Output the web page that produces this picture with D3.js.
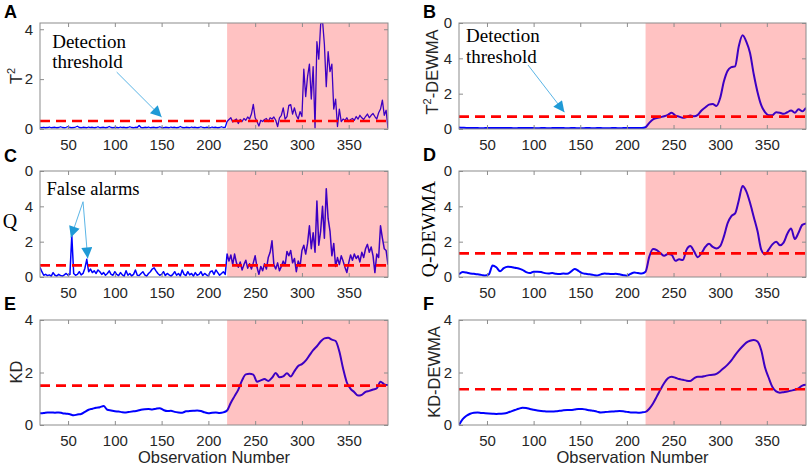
<!DOCTYPE html>
<meta charset="utf-8">
<style>
  body { margin: 0; background: #fff; }
  svg text { font-family: Arial, "Liberation Sans", sans-serif; }
  .tick text { fill: #262626; font-size: 15px; }
  .tick line { stroke: #8c8c8c; }
  .serif { font-family: "Times New Roman", "Liberation Serif", serif !important; }
</style>
<body></body>
<script src="https://d3js.org/d3.v7.min.js"></script>
<script>
// observation numbers (raw statistics every 2nd sample, DEWMA curves every 4th)
var obsRaw = d3.range(20, 393, 2);
var obsDewma = d3.range(20, 393, 4);
var faultStart = 220;
var xTicks = [50, 100, 150, 200, 250, 300, 350];

// A: T^2
var t2 = [
  0.06,0.05,0.07,0.05,0.06,0.08,0.05,0.06,0.07,0.05,
  0.06,0.09,0.06,0.05,0.07,0.10,0.06,0.05,0.06,0.08,
  0.11,0.06,0.05,0.07,0.06,0.05,0.08,0.06,0.07,0.05,
  0.06,0.09,0.05,0.06,0.07,0.05,0.06,0.10,0.06,0.05,
  0.07,0.06,0.05,0.08,0.06,0.07,0.05,0.06,0.09,0.06,
  0.05,0.07,0.06,0.14,0.06,0.05,0.07,0.06,0.08,0.05,
  0.06,0.07,0.05,0.06,0.09,0.06,0.05,0.07,0.06,0.05,
  0.08,0.06,0.07,0.05,0.06,0.10,0.06,0.05,0.07,0.06,
  0.05,0.08,0.06,0.07,0.05,0.06,0.09,0.06,0.05,0.07,
  0.06,0.05,0.08,0.06,0.07,0.05,0.06,0.09,0.06,0.07,
  0.30,0.38,0.45,0.28,0.35,0.40,0.22,0.38,0.30,0.42,
  0.35,0.48,0.40,0.60,0.99,0.45,0.30,0.12,0.35,0.30,
  0.38,0.42,0.30,0.45,0.40,0.48,0.35,0.10,0.45,0.55,
  0.85,0.40,0.50,0.95,0.98,0.60,0.85,0.55,0.40,0.70,
  0.50,2.40,1.30,2.10,2.60,1.20,2.50,0.05,3.50,2.80,
  4.20,4.35,3.40,1.70,3.10,2.30,2.60,0.80,1.20,0.10,
  0.80,0.30,0.40,0.35,0.45,0.30,0.38,0.42,0.35,0.50,
  0.40,0.55,0.45,0.38,0.50,0.60,0.45,0.55,0.62,0.50,
  0.40,0.65,0.80,1.16,0.55,0.75,0.02
];

// B: T^2-DEWMA
var t2Dewma = [
  0.08,0.07,0.06,0.06,0.05,0.05,0.04,0.05,0.06,0.06,
  0.05,0.06,0.06,0.05,0.05,0.04,0.05,0.05,0.06,0.05,
  0.05,0.04,0.05,0.05,0.04,0.05,0.06,0.05,0.05,0.04,
  0.05,0.05,0.04,0.04,0.05,0.05,0.04,0.05,0.05,0.04,
  0.04,0.05,0.05,0.04,0.05,0.06,0.05,0.05,0.06,0.05,
  0.10,0.35,0.55,0.62,0.67,0.72,0.80,0.92,0.76,0.70,
  0.63,0.68,0.76,0.72,0.80,1.05,1.22,1.38,1.42,1.30,
  1.75,2.70,3.30,3.50,3.55,4.70,5.30,4.95,4.30,3.10,
  2.10,1.35,0.95,0.78,0.78,0.95,0.92,0.86,0.95,1.05,
  0.92,1.12,1.00,1.20
];

// C: Q
var q = [
  0.55,0.30,0.10,0.15,0.08,0.12,0.05,0.25,0.10,0.06,
  0.15,0.08,0.05,0.12,0.20,0.10,0.15,2.35,0.20,0.10,
  0.15,0.30,0.12,0.20,0.50,1.00,0.30,0.45,0.25,0.35,
  0.20,0.40,0.30,0.15,0.25,0.10,0.20,0.35,0.15,0.10,
  0.30,0.15,0.08,0.25,0.12,0.05,0.35,0.10,0.20,0.06,
  0.15,0.40,0.10,0.08,0.20,0.30,0.12,0.05,0.20,0.30,
  0.45,0.52,0.35,0.20,0.10,0.15,0.30,0.08,0.20,0.12,
  0.05,0.15,0.30,0.10,0.20,0.06,0.40,0.15,0.08,0.30,
  0.12,0.20,0.05,0.25,0.10,0.15,0.30,0.08,0.20,0.12,
  0.05,0.30,0.35,0.15,0.40,0.25,0.10,0.20,0.30,0.15,
  1.30,0.90,1.25,0.70,1.30,0.80,0.55,0.85,0.40,0.70,
  0.95,0.50,0.75,0.45,0.80,1.20,0.55,0.15,0.60,0.35,
  0.75,0.45,1.10,1.40,2.05,0.70,0.45,0.80,0.35,0.60,
  0.90,0.65,1.45,1.20,1.50,0.80,1.05,0.30,0.90,0.60,
  1.50,1.80,1.30,1.90,2.90,1.60,2.50,1.40,4.30,1.80,
  2.60,4.00,2.20,5.00,3.30,2.60,1.20,1.90,0.60,1.10,
  0.70,1.20,0.90,0.55,0.25,0.80,1.25,0.95,1.30,1.05,
  1.20,0.85,1.40,1.10,1.60,1.85,1.40,1.70,1.20,0.25,
  1.30,1.10,2.90,2.20,1.60,1.50,0.70
];

// D: Q-DEWMA
var qDewma = [
  0.15,0.28,0.25,0.20,0.18,0.15,0.12,0.08,0.15,0.65,
  0.55,0.32,0.50,0.58,0.57,0.52,0.48,0.40,0.28,0.22,
  0.30,0.30,0.28,0.22,0.20,0.22,0.18,0.17,0.20,0.18,
  0.30,0.45,0.35,0.22,0.18,0.15,0.12,0.08,0.15,0.20,
  0.18,0.17,0.18,0.15,0.10,0.07,0.18,0.25,0.22,0.20,
  0.30,1.15,1.58,1.52,1.35,1.20,1.30,1.25,0.92,1.00,
  0.96,1.55,1.75,1.45,1.12,1.35,1.70,1.88,1.70,1.62,
  1.75,2.30,3.05,3.45,3.60,4.35,5.15,4.85,4.20,3.40,
  2.60,1.55,1.28,1.55,1.85,2.00,1.80,1.95,2.45,2.75,
  2.15,2.50,2.95,3.03
];

// E: KD
var kd = [
  0.45,0.46,0.48,0.48,0.47,0.48,0.45,0.43,0.41,0.37,
  0.40,0.42,0.50,0.58,0.62,0.66,0.68,0.72,0.58,0.55,
  0.52,0.51,0.49,0.48,0.50,0.52,0.54,0.58,0.60,0.61,
  0.59,0.62,0.64,0.57,0.53,0.54,0.50,0.48,0.47,0.52,
  0.53,0.54,0.55,0.53,0.48,0.45,0.47,0.48,0.46,0.48,
  0.55,0.85,1.10,1.35,1.70,1.93,1.95,1.92,1.65,1.70,
  1.75,1.68,1.80,1.98,1.82,1.85,1.97,1.85,2.05,2.25,
  2.32,2.45,2.65,2.85,3.00,3.18,3.30,3.32,3.25,3.20,
  2.80,2.15,1.62,1.38,1.25,1.12,1.15,1.26,1.30,1.35,
  1.40,1.65,1.55,1.52
];

// F: KD-DEWMA
var kdDewma = [
  0.00,0.22,0.35,0.43,0.47,0.48,0.46,0.45,0.44,0.43,
  0.42,0.43,0.44,0.47,0.52,0.57,0.62,0.66,0.65,0.61,
  0.58,0.55,0.53,0.52,0.51,0.51,0.52,0.54,0.56,0.57,
  0.57,0.59,0.61,0.61,0.59,0.56,0.54,0.51,0.48,0.49,
  0.50,0.51,0.52,0.53,0.52,0.50,0.48,0.48,0.47,0.48,
  0.50,0.62,0.82,1.08,1.35,1.60,1.78,1.84,1.80,1.75,
  1.72,1.69,1.68,1.78,1.84,1.84,1.87,1.90,1.91,1.95,
  2.05,2.17,2.30,2.46,2.66,2.84,3.00,3.14,3.21,3.24,
  3.18,2.85,2.20,1.80,1.45,1.28,1.23,1.25,1.28,1.31,
  1.34,1.40,1.50,1.53
];

var thresholds = [0.32, 0.70, 0.66, 1.34, 1.50, 1.36];
var yMax = [4.25, 6, 6, 6, 4, 4];
var yTicks4 = [0, 2, 4];
var yTicks6 = [0, 2, 4, 6];
var yTickLabels6 = ["0", "2", "4", "0"];
var panelLetters = ["A", "B", "C", "D", "E", "F"];

// panel layout (pixel boxes of the plot areas)
var cols = [{ left: 40, right: 388 }, { left: 459, right: 806 }];
var rows = [{ top: 23, bottom: 129 }, { top: 171, bottom: 277 }, { top: 320, bottom: 425 }];

var panels = [
  { series: t2, obs: obsRaw, width: 1.3, smooth: false },
  { series: t2Dewma, obs: obsDewma, width: 2, smooth: true },
  { series: q, obs: obsRaw, width: 1.5, smooth: false },
  { series: qDewma, obs: obsDewma, width: 2, smooth: true },
  { series: kd, obs: obsDewma, width: 2, smooth: true },
  { series: kdDewma, obs: obsDewma, width: 2, smooth: true }
];

var svg = d3.select("body").append("svg")
  .attr("width", 809)
  .attr("height", 469);

var defs = svg.append("defs");
defs.append("marker")
  .attr("id", "arrowHead")
  .attr("viewBox", "0 0 10 10")
  .attr("refX", 10)
  .attr("refY", 5)
  .attr("markerUnits", "userSpaceOnUse")
  .attr("markerWidth", 13)
  .attr("markerHeight", 11)
  .attr("orient", "auto")
  .append("path")
  .attr("d", "M0,0L10,5L0,10z")
  .attr("fill", "#1f9ad6");

var scales = [];

panels.forEach(function (p, i) {
  var col = cols[i % 2], row = rows[Math.floor(i / 2)];
  var w = col.right - col.left, h = row.bottom - row.top;

  var x = d3.scaleLinear().domain([20, 392]).range([0, w]);
  var y = d3.scaleLinear().domain([0, yMax[i]]).range([h, 0]);
  scales.push({ x: x, y: y });

  var g = svg.append("g")
    .attr("transform", "translate(" + col.left + "," + row.top + ")");

  defs.append("clipPath").attr("id", "clip" + i)
    .append("rect").attr("width", w).attr("height", h);

  var plot = g.append("g").attr("clip-path", "url(#clip" + i + ")");

  var line = d3.line()
    .x(function (d, k) { return x(p.obs[k]); })
    .y(function (d) { return y(d); })
    .curve(p.smooth ? d3.curveMonotoneX : d3.curveLinear);

  plot.append("path")
    .datum(p.series)
    .attr("fill", "none")
    .attr("stroke", "#0000ff")
    .attr("stroke-width", p.width)
    .attr("stroke-linejoin", "round")
    .attr("d", line);

  // detection threshold
  plot.append("line")
    .attr("x1", x(20)).attr("x2", x(392))
    .attr("y1", y(thresholds[i])).attr("y2", y(thresholds[i]))
    .attr("stroke", "#ff0000")
    .attr("stroke-width", 2.6)
    .attr("stroke-dasharray", "10,6");

  // fault region, drawn over the line like a transparent patch
  plot.append("rect")
    .attr("x", x(faultStart))
    .attr("y", 0)
    .attr("width", x(392) - x(faultStart))
    .attr("height", h)
    .attr("fill", "#ff0000")
    .attr("fill-opacity", 0.24);

  var yt = yMax[i] === 6 ? yTicks6 : yTicks4;

  g.append("g")
    .attr("transform", "translate(0," + h + ")")
    .call(d3.axisBottom(x).tickValues(xTicks).tickSizeInner(-4).tickSizeOuter(0).tickPadding(10.3))
    .call(function (a) { a.select(".domain").remove(); });

  g.append("g")
    .call(d3.axisTop(x).tickValues(xTicks).tickSizeInner(-4).tickSizeOuter(0).tickFormat(""))
    .call(function (a) { a.select(".domain").remove(); });

  g.append("g")
    .call(d3.axisLeft(y).tickValues(yt).tickSizeInner(-4).tickSizeOuter(0).tickPadding(7)
      .tickFormat(function (d, k) { return yMax[i] === 6 ? yTickLabels6[k] : d; }))
    .call(function (a) { a.select(".domain").remove(); });

  g.append("g")
    .attr("transform", "translate(" + w + ",0)")
    .call(d3.axisRight(y).tickValues(yt).tickSizeInner(-4).tickSizeOuter(0).tickFormat(""))
    .call(function (a) { a.select(".domain").remove(); });

  g.selectAll(".tick text").style("font-size", "15px");

  // box
  g.append("rect")
    .attr("width", w).attr("height", h)
    .attr("fill", "none")
    .attr("stroke", "#8c8c8c")
    .attr("stroke-width", 1);

  // panel letter
  svg.append("text")
    .attr("x", i % 2 === 0 ? 4 : 423)
    .attr("y", [18, 18, 162, 161, 310, 310][i])
    .attr("font-size", "18px")
    .attr("font-weight", "bold")
    .attr("fill", "#000")
    .text(panelLetters[i]);
});

// y-axis labels
function rotLabel(xp, yp) {
  return svg.append("text")
    .attr("transform", "translate(" + xp + "," + yp + ") rotate(-90)")
    .attr("text-anchor", "middle")
    .attr("fill", "#262626");
}

var la = rotLabel(22, 76).attr("font-size", "16.5px");
la.append("tspan").text("T");
la.append("tspan").attr("font-size", "11px").attr("dy", -7).text("2");

var lb = rotLabel(438, 72).attr("font-size", "16.5px");
lb.append("tspan").text("T");
lb.append("tspan").attr("font-size", "11px").attr("dy", -7).text("2");
lb.append("tspan").attr("dy", 7).text("-DEWMA");

svg.append("text")
  .attr("class", "serif")
  .attr("x", 10).attr("y", 228)
  .attr("text-anchor", "middle")
  .attr("font-size", "20px")
  .attr("fill", "#000")
  .text("Q");

rotLabel(435, 229).attr("class", "serif").attr("font-size", "19.5px").attr("fill", "#000").text("Q-DEWMA");
rotLabel(22, 372).attr("font-size", "16.5px").text("KD");
rotLabel(440, 372).attr("font-size", "16.5px").text("KD-DEWMA");

// x-axis titles
[0, 1].forEach(function (c) {
  svg.append("text")
    .attr("x", (cols[c].left + cols[c].right) / 2)
    .attr("y", 463)
    .attr("text-anchor", "middle")
    .attr("font-size", "16.5px")
    .attr("fill", "#262626")
    .text("Observation Number");
});

// annotations, placed in data coordinates of their panel
var annotations = [
  { panel: 0, text: ["Detection", "threshold"], at: [33, [3.24, 2.44]], from: [102, 2.28], to: [[150, 0.48]] },
  { panel: 1, text: ["Detection", "threshold"], at: [27.5, [4.95, 3.71]], from: [94, 3.62], to: [[133, 0.95]] },
  { panel: 2, text: ["False alarms"], at: [27, [4.64]], from: [66, 4.26], to: [[53, 2.24], [71, 1.05]] }
];

annotations.forEach(function (a) {
  var col = cols[a.panel % 2], row = rows[Math.floor(a.panel / 2)];
  var s = scales[a.panel];
  var g = svg.append("g").attr("transform", "translate(" + col.left + "," + row.top + ")");

  a.text.forEach(function (t, k) {
    g.append("text")
      .attr("class", "serif")
      .attr("x", s.x(a.at[0]))
      .attr("y", s.y(a.at[1][k]))
      .attr("font-size", a.panel === 2 ? "18.5px" : "19px")
      .attr("fill", "#000")
      .text(t);
  });

  a.to.forEach(function (t) {
    g.append("line")
      .attr("x1", s.x(a.from[0])).attr("y1", s.y(a.from[1]))
      .attr("x2", s.x(t[0])).attr("y2", s.y(t[1]))
      .attr("stroke", "#5bb5e6")
      .attr("stroke-width", 1)
      .attr("marker-end", "url(#arrowHead)");
  });
});
</script>
